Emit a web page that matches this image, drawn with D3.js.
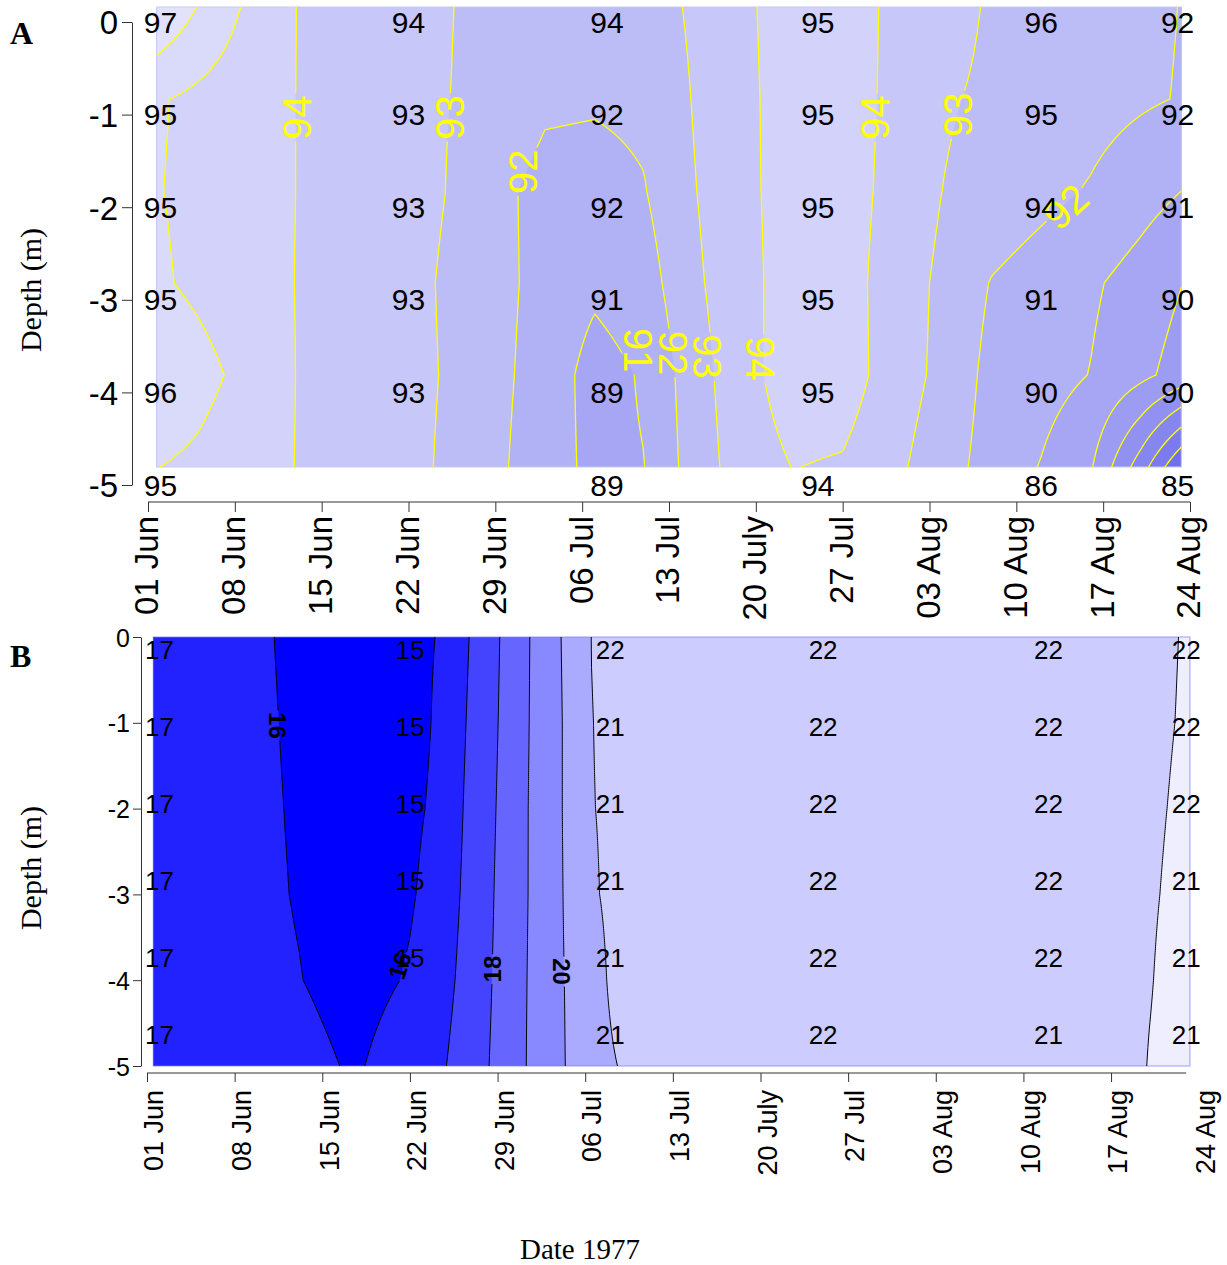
<!DOCTYPE html>
<html>
<head>
<meta charset="utf-8">
<script src="https://cdn.jsdelivr.net/npm/d3@7"></script>
<style>
  html, body { margin: 0; padding: 0; background: #fff; }
  svg { display: block; }
  .sans { font-family: "Liberation Sans", Arial, sans-serif; }
  .serif { font-family: "Liberation Serif", "Times New Roman", serif; }
</style>
</head>
<body>
<svg id="chart" width="1227" height="1265"></svg>
<script>
// ---- Station profiles, summer 1977 (days counted from 1 June) ----
const sampleDays = [1, 21, 37, 54, 72, 83];
const sampleDepths = [0, -1, -2, -3, -4, -5];

// Panel A: measured values at each depth (rows) and date (columns)
const oxygenValues = [
  [97, 94, 94, 95, 96, 92],
  [95, 93, 92, 95, 95, 92],
  [95, 93, 92, 95, 94, 91],
  [95, 93, 91, 95, 91, 90],
  [96, 93, 89, 95, 90, 90],
  [95, null, 89, 94, 86, 85]
];

// Panel B: water temperature
const temperatureValues = [
  [17, 15, 22, 22, 22, 22],
  [17, 15, 21, 22, 22, 22],
  [17, 15, 21, 22, 22, 22],
  [17, 15, 21, 22, 22, 21],
  [17, 15, 21, 22, 22, 21],
  [17, null, 21, 22, 21, 21]
];

// Date axis
const tickDays = [0, 7, 14, 21, 28, 35, 42, 49, 56, 63, 70, 77, 84];
const tickLabels = ["01 Jun", "08 Jun", "15 Jun", "22 Jun", "29 Jun", "06 Jul", "13 Jul",
                    "20 July", "27 Jul", "03 Aug", "10 Aug", "17 Aug", "24 Aug"];
const depthTicks = [0, -1, -2, -3, -4, -5];

// Gridded surfaces used for the contour shading (rows = depth 0 .. -5)
const gridDepths = [0, -1, -2, -3, -4, -5];

const oxygenGridDays = [0.7, 4, 8, 12, 16, 20, 24, 28, 32, 36, 40, 44, 48, 52, 56, 60, 64, 68, 72, 76, 80, 83.3];
const oxygenGrid = [
  [97.0, 95.98, 94.85, 93.99, 93.7, 93.4, 93.06, 92.7, 92.4, 92.3, 92.5, 93.15, 93.85, 94.4, 94.4, 93.85, 93.35, 92.9, 92.6, 92.4, 92.2, 91.98],
  [95.1, 94.78, 94.39, 93.99, 93.68, 93.35, 93.03, 92.7, 92.15, 92.1, 92.2, 93.05, 93.8, 94.4, 94.45, 93.8, 93.1, 92.85, 92.6, 92.37, 92.13, 91.95],
  [95.05, 94.76, 94.38, 93.99, 93.67, 93.32, 93.0, 92.25, 91.7, 91.65, 91.95, 92.95, 93.78, 94.4, 94.4, 93.75, 93.0, 92.64, 92.28, 91.92, 91.4, 91.0],
  [95.15, 94.8, 94.39, 93.98, 93.64, 93.3, 92.92, 92.28, 91.7, 91.2, 91.55, 92.8, 93.72, 94.4, 94.4, 93.6, 92.8, 91.95, 91.55, 91.15, 90.6, 90.02],
  [95.8, 95.35, 94.7, 93.98, 93.65, 93.3, 92.95, 92.25, 91.6, 90.6, 91.1, 92.55, 93.66, 94.5, 94.5, 93.55, 92.75, 91.7, 91.4, 90.97, 90.25, 89.6],
  [95.02, 94.8, 94.35, 93.98, 93.65, 93.3, 92.9, 92.2, 91.45, 90.75, 90.98, 92.45, 93.5, 94.02, 93.9, 93.25, 92.45, 91.6, 90.95, 90.1, 87.5, 85.0]
];

const temperatureGridDays = [0.5, 12.2, 16.6, 21.0, 23.4, 25.8, 28.2, 30.6, 33.1, 35.5, 39.4, 60.1, 76.1, 80.1, 83.3];
const temperatureGrid = [
  [16.9, 15.81, 15.1, 15.75, 16.05, 17.03, 18.01, 19.01, 20.01, 21.01, 21.5, 21.7, 21.85, 21.95, 22.02],
  [16.9, 15.85, 15.15, 15.65, 16.15, 17.13, 18.06, 19.03, 19.97, 20.98, 21.46, 21.7, 21.85, 21.96, 22.024],
  [16.9, 15.89, 15.25, 15.8, 16.2, 17.24, 18.12, 19.06, 19.97, 20.97, 21.33, 21.7, 21.85, 21.97, 22.04],
  [16.9, 15.93, 15.35, 15.9, 16.4, 17.3, 18.18, 19.06, 19.95, 20.9, 21.5, 21.7, 21.85, 21.98, 22.06],
  [16.9, 16.03, 15.55, 16.1, 16.6, 17.4, 18.22, 19.09, 19.93, 20.65, 21.77, 21.8, 21.9, 21.99, 22.1],
  [16.9, 16.4, 15.85, 16.68, 16.85, 17.55, 18.26, 19.11, 19.9, 20.68, 21.28, 21.6, 21.85, 22.01, 22.1]
];

// Contour levels
const oxygenLevels = d3.range(84, 98);
const oxygenLineLevels = d3.range(85, 97);
const temperatureLevels = d3.range(15, 24);
const temperatureLineLevels = d3.range(16, 23);

// Inline contour labels: level, day, depth, text angle
const oxygenContourLabels = [
  { level: 94, day: 12.0, depth: -1.2, angle: -90 },
  { level: 93, day: 24.35, depth: -1.2, angle: -90 },
  { level: 92, day: 30.2, depth: -1.79, angle: -90 },
  { level: 94, day: 58.6, depth: -1.2, angle: -90 },
  { level: 93, day: 65.3, depth: -1.17, angle: -90 },
  { level: 92, day: 74.0, depth: -2.17, angle: -42 },
  { level: 91, day: 39.5, depth: -3.73, angle: 90 },
  { level: 92, day: 42.3, depth: -3.76, angle: 90 },
  { level: 93, day: 45.1, depth: -3.8, angle: 90 },
  { level: 94, day: 49.3, depth: -3.82, angle: 90 }
];
const temperatureContourLabels = [
  { level: 16, day: 10.4, depth: -1.03, angle: 90 },
  { level: 16, day: 20.2, depth: -3.83, angle: -72 },
  { level: 18, day: 27.6, depth: -3.87, angle: -90 },
  { level: 20, day: 33.1, depth: -3.9, angle: 90 }
];

// ---- helpers ----
function bracket(arr, v) {
  const n = arr.length;
  const asc = arr[n - 1] > arr[0];
  for (let k = 0; k < n - 1; k++) {
    const a = arr[k], b = arr[k + 1];
    if ((asc ? v <= b : v >= b) || k === n - 2) {
      return [k, Math.max(0, Math.min(1, (v - a) / (b - a)))];
    }
  }
}

function fieldAt(days, depths, grid, day, depth) {
  const [i, tx] = bracket(days, day);
  const [j, ty] = bracket(depths, depth);
  const top = grid[j][i] * (1 - tx) + grid[j][i + 1] * tx;
  const bot = grid[j + 1][i] * (1 - tx) + grid[j + 1][i + 1] * tx;
  return top * (1 - ty) + bot * ty;
}

const svg = d3.select("#chart");
const defs = svg.append("defs");

function drawPanel(cfg) {
  const g = svg.append("g");
  const days = cfg.gridDays, grid = cfg.grid;
  const d0 = days[0], d1 = days[days.length - 1];
  const z0 = gridDepths[0], z1 = gridDepths[gridDepths.length - 1];
  const X0 = cfg.x(d0), X1 = cfg.x(d1), Y0 = cfg.yField(z0), Y1 = cfg.yField(z1);
  const nx = Math.round((X1 - X0) / 2) + 1;
  const ny = Math.round((Y1 - Y0) / 2) + 1;

  // Resample onto a fine grid, with an outer guard ring so the isolines close outside the plotted area
  const W = nx + 4, H = ny + 4;
  const values = new Array(W * H);
  for (let j = 0; j < H; j++) {
    for (let i = 0; i < W; i++) {
      let v;
      if (i === 0 || j === 0 || i === W - 1 || j === H - 1) {
        v = -1e6;
      } else {
        const ii = Math.min(nx - 1, Math.max(0, i - 2));
        const jj = Math.min(ny - 1, Math.max(0, j - 2));
        const day = d0 + (d1 - d0) * ii / (nx - 1);
        const depth = z0 + (z1 - z0) * jj / (ny - 1);
        v = fieldAt(days, gridDepths, grid, day, depth);
      }
      values[j * W + i] = v;
    }
  }
  const px = c => X0 + (X1 - X0) * (c - 2.5) / (nx - 1);
  const py = c => Y0 + (Y1 - Y0) * (c - 2.5) / (ny - 1);
  const contours = d3.contours().size([W, H]).thresholds(cfg.levels)(values);
  const path = d3.geoPath();
  const toScreen = c => ({
    type: "MultiPolygon",
    coordinates: c.coordinates.map(poly => poly.map(ring => ring.map(([a, b]) => [px(a), py(b)])))
  });

  const clipId = "clip" + cfg.id;
  defs.append("clipPath").attr("id", clipId)
    .append("rect").attr("x", X0).attr("y", Y0).attr("width", X1 - X0).attr("height", Y1 - Y0);

  // shaded bands
  const fillG = g.append("g").attr("clip-path", `url(#${clipId})`);
  fillG.append("rect").attr("x", X0).attr("y", Y0).attr("width", X1 - X0).attr("height", Y1 - Y0)
    .attr("fill", cfg.color(cfg.levels[0] - 1));
  fillG.selectAll("path.band").data(contours).join("path")
    .attr("class", "band")
    .attr("d", c => path(toScreen(c)))
    .attr("fill", c => cfg.color(c.value))
    .attr("stroke", c => cfg.color(c.value))
    .attr("stroke-width", 0.4);

  g.append("rect").attr("x", X0).attr("y", Y0).attr("width", X1 - X0).attr("height", Y1 - Y0)
    .attr("fill", "none").attr("stroke", cfg.edgeColor).attr("stroke-width", 1);

  // contour label positions and gaps in the isolines
  const labels = cfg.contourLabels.map(d => ({
    ...d, cx: cfg.x(d.day), cy: cfg.yField(d.depth)
  }));
  const maskId = "mask" + cfg.id;
  const mask = defs.append("mask").attr("id", maskId).attr("maskUnits", "userSpaceOnUse")
    .attr("x", 0).attr("y", 0).attr("width", 1227).attr("height", 1265);
  mask.append("rect").attr("x", 0).attr("y", 0).attr("width", 1227).attr("height", 1265).attr("fill", "#fff");
  labels.forEach(d => {
    const w = String(d.level).length * 0.58 * cfg.contourFont + 2;
    const h = 0.78 * cfg.contourFont;
    mask.append("rect")
      .attr("x", -w / 2).attr("y", -h / 2).attr("width", w).attr("height", h)
      .attr("transform", `translate(${d.cx},${d.cy}) rotate(${d.angle})`)
      .attr("fill", "#000");
  });

  const lineG = g.append("g").attr("clip-path", `url(#${clipId})`);
  lineG.append("g").attr("mask", `url(#${maskId})`)
    .selectAll("path").data(contours.filter(c => cfg.lineLevels.includes(c.value))).join("path")
    .attr("d", c => path(toScreen(c)))
    .attr("fill", "none")
    .attr("stroke", cfg.lineColor)
    .attr("stroke-width", cfg.lineWidth);

  g.append("g").attr("class", "sans").selectAll("text").data(labels).join("text")
    .attr("transform", d => `translate(${d.cx},${d.cy}) rotate(${d.angle})`)
    .attr("text-anchor", "middle")
    .attr("dominant-baseline", "central")
    .attr("font-size", cfg.contourFont)
    .attr("font-weight", cfg.contourWeight)
    .attr("fill", cfg.lineColor)
    .text(d => d.level);

  // measured values
  const cells = [];
  cfg.values.forEach((row, j) => row.forEach((v, i) => {
    if (v !== null) cells.push({ v, day: sampleDays[i], depth: sampleDepths[j] });
  }));
  g.append("g").attr("class", "sans").selectAll("text").data(cells).join("text")
    .attr("x", d => cfg.x(d.day))
    .attr("y", d => cfg.yLabel(d.depth))
    .attr("text-anchor", "middle")
    .attr("dominant-baseline", "central")
    .attr("font-size", cfg.valueFont)
    .attr("fill", "#000")
    .text(d => d.v);

  // depth axis
  const yAx = g.append("g").attr("class", "sans")
    .attr("transform", `translate(${cfg.yAxisX},0)`)
    .call(d3.axisLeft(cfg.yAxis).tickValues(depthTicks).tickFormat(d => String(d))
      .tickSize(cfg.yTickSize).tickSizeOuter(0).tickPadding(cfg.yTickPad));
  yAx.select(".domain").attr("stroke", "#333");
  yAx.selectAll(".tick line").attr("stroke", "#333");
  yAx.selectAll("text").attr("font-size", cfg.yTickFont).attr("fill", "#000")
    .attr("font-family", "Liberation Sans, Arial, sans-serif").attr("dy", "0.36em");

  // date axis
  const xAx = g.append("g")
    .attr("transform", `translate(0,${cfg.xAxisY})`)
    .call(d3.axisBottom(cfg.x).tickValues(tickDays).tickFormat((d, i) => tickLabels[i])
      .tickSize(cfg.xTickSize).tickSizeOuter(0));
  xAx.select(".domain").remove();
  xAx.append("line")
    .attr("x1", cfg.x(tickDays[0])).attr("x2", cfg.x(cfg.axisEndDay))
    .attr("stroke", "#333");
  xAx.selectAll(".tick line").attr("stroke", "#333")
    .attr("visibility", d => (d <= cfg.axisEndDay ? "visible" : "hidden"));
  xAx.selectAll(".tick text")
    .attr("font-family", "Liberation Sans, Arial, sans-serif")
    .attr("font-size", cfg.xTickFont).attr("fill", "#000")
    .attr("transform", "rotate(-90)")
    .attr("text-anchor", "end")
    .attr("x", -cfg.xLabelGap)
    .attr("y", cfg.xLabelShift)
    .attr("dy", "0.36em");

  // titles
  svg.append("text").attr("class", "serif")
    .attr("transform", `translate(${cfg.depthTitleX},${cfg.depthTitleY}) rotate(-90)`)
    .attr("text-anchor", "middle").attr("dominant-baseline", "central")
    .attr("font-size", 30).text("Depth (m)");
  svg.append("text").attr("class", "serif")
    .attr("x", 10).attr("y", cfg.letterY)
    .attr("font-size", 32).attr("font-weight", "bold").text(cfg.id);
}

const xA = d3.scaleLinear().domain([0, 84]).range([148, 1190]);
const xB = d3.scaleLinear().domain([0, 84]).range([147, 1198.7]);

drawPanel({
  id: "A",
  x: xA,
  yAxis: d3.scaleLinear().domain([0, -5]).range([22, 485]),
  yField: d3.scaleLinear().domain([0, -5]).range([7, 467]),
  yLabel: d3.scaleLinear().domain([0, -5]).range([22, 485]),
  gridDays: oxygenGridDays, grid: oxygenGrid,
  levels: oxygenLevels, lineLevels: oxygenLineLevels,
  color: d3.scaleLinear().domain([85, 94, 96]).range(["#7070ee", "#d2d2fa", "#e2e2fc"]).clamp(true),
  edgeColor: "#cacaf4",
  lineColor: "#ffff00", lineWidth: 1.3,
  contourLabels: oxygenContourLabels, contourFont: 40, contourWeight: "normal",
  values: oxygenValues, valueFont: 30,
  yAxisX: 132, yTickSize: 10, yTickPad: 4, yTickFont: 33,
  xAxisY: 502, xTickSize: 10, xTickFont: 33, xLabelGap: 14, xLabelShift: -2, axisEndDay: 84,
  depthTitleX: 30, depthTitleY: 290, letterY: 44
});

drawPanel({
  id: "B",
  x: xB,
  yAxis: d3.scaleLinear().domain([0, -5]).range([637, 1066]),
  yField: d3.scaleLinear().domain([0, -5]).range([637, 1066]),
  yLabel: d3.scaleLinear().domain([0, -5]).range([650, 1035]),
  gridDays: temperatureGridDays, grid: temperatureGrid,
  levels: temperatureLevels, lineLevels: temperatureLineLevels,
  color: d3.scaleLinear().domain([15, 22]).range(["#0000ff", "#eeeeff"]).clamp(true),
  edgeColor: "rgba(120,120,255,0.7)",
  lineColor: "#000", lineWidth: 1,
  contourLabels: temperatureContourLabels, contourFont: 24, contourWeight: "bold",
  values: temperatureValues, valueFont: 26,
  yAxisX: 141, yTickSize: 8, yTickPad: 3, yTickFont: 25,
  xAxisY: 1073, xTickSize: 9, xTickFont: 27, xLabelGap: 17, xLabelShift: 6, axisEndDay: 83,
  depthTitleX: 30, depthTitleY: 868, letterY: 667
});

svg.append("text").attr("class", "serif")
  .attr("x", 580).attr("y", 1249)
  .attr("text-anchor", "middle").attr("dominant-baseline", "central")
  .attr("font-size", 29).text("Date 1977");
</script>
</body>
</html>
